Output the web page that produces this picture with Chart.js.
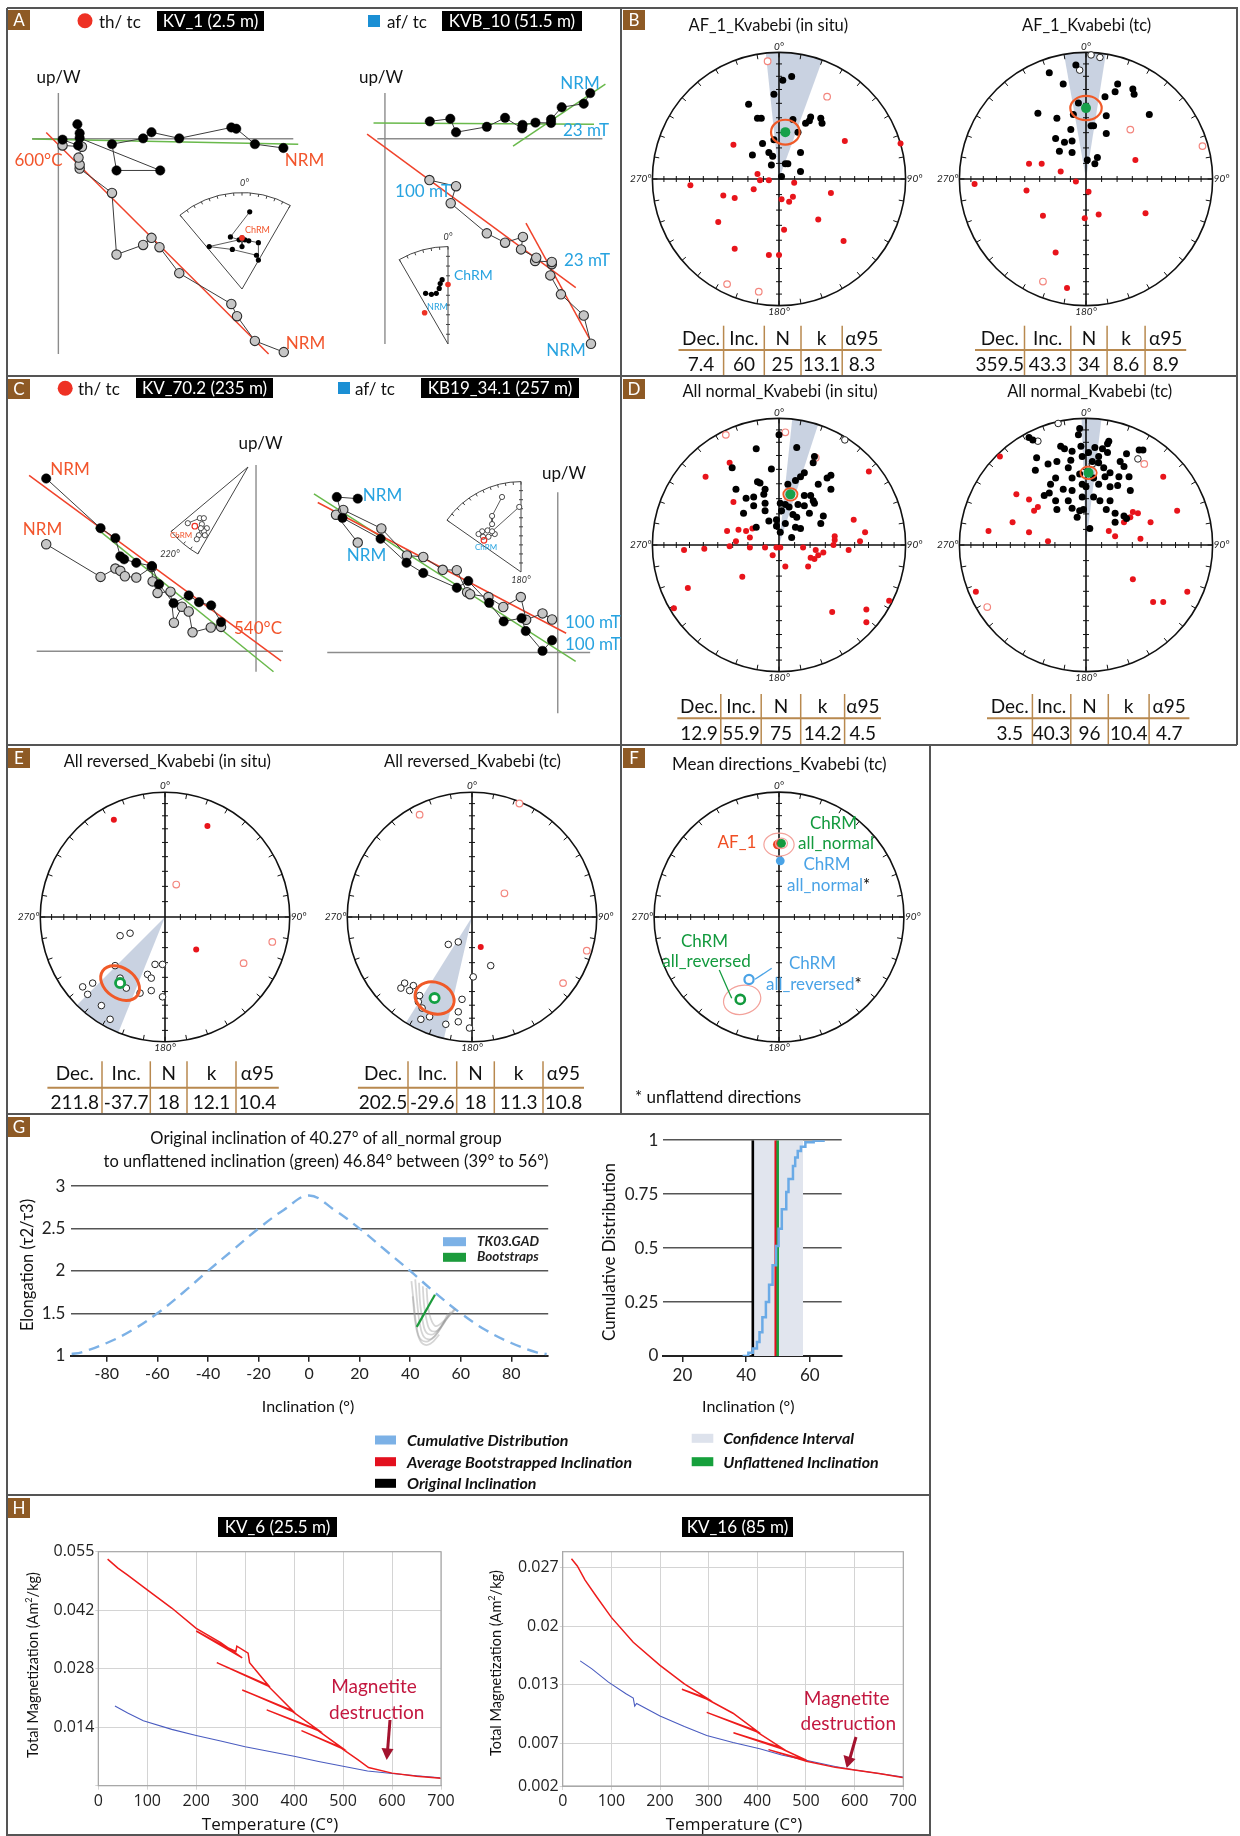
<!DOCTYPE html>
<html>
<head>
<meta charset="utf-8">
<title>Kvabebi palaeomagnetic results</title>
<script src="https://cdn.jsdelivr.net/npm/chart.js@4.4.1/dist/chart.umd.min.js"></script>
<style>
  body { margin:0; background:#fff; }
  #fig { position:relative; width:1240px; height:1836px; background:#fff; overflow:hidden; font-family: Lato, "Open Sans", sans-serif; }
  #fig canvas { position:absolute; }
  .t { position:absolute; white-space:nowrap; line-height:1; }
</style>
</head>
<body>
<div id="fig"></div>
<script>
// ================= DATA =================
// Zijderveld diagrams (arbitrary units, origin = axis crossing)
var kv1Horiz = [[592,-29],[517,-17],[468,31],[455,35],[318,1],[245,20],[223,1],[141,-17],[153,-99],[268,-99],[56,2],[56,17],[50,45],[52,-21],[11,-3]];
var kv1Vert  = [[593,-665],[517,-630],[470,-553],[455,-515],[318,-419],[266,-338],[245,-309],[223,-331],[153,-361],[141,-169],[56,-93],[56,-81],[53,-59],[62,-25],[11,-21]];
var kv1FitRed = [[-32,19],[553,-671]];
var kv1FitGreen = [[-69,-1],[631,-17]];

var kvb10Horiz = [[540,142],[523,109],[465,98],[437,60],[437,49],[396,50],[362,43],[361,32],[316,65],[268,37],[187,20],[172,62],[118,54]];
var kvb10Vert  = [[542,-639],[523,-551],[463,-485],[435,-426],[439,-391],[439,-384],[395,-381],[398,-371],[358,-345],[363,-306],[316,-324],[268,-295],[173,-201],[187,-148],[117,-129]];
var kvb10FitRed = [[-47,14],[502,-464]];
var kvb10FitRed2 = [[371,-263],[538,-623]];
var kvb10FitGreen = [[-30,49],[550,45]];
var kvb10FitGreen2 = [[337,-23],[580,170]];

var kv70Horiz = [[-552,539],[-409,384],[-370,353],[-357,296],[-347,287],[-315,276],[-274,266],[-255,209],[-217,150],[-177,174],[-150,153],[-118,143],[-92,91]];
var kv70Vert  = [[-552,334],[-409,232],[-370,258],[-357,251],[-345,234],[-315,230],[-274,263],[-272,218],[-259,182],[-225,186],[-216,89],[-195,139],[-177,124],[-167,59],[-119,74],[-92,76]];
var kv70FitRed = [[-597,549],[66,-30]];
var kv70FitGreen = [[-422,386],[46,-64]];

var kb19Horiz = [[-525,480],[-580,485],[-565,420],[-465,355],[-397,280],[-353,248],[-265,202],[-235,223],[-180,155],[-142,97],[-95,107],[-84,67],[-40,5],[-15,38]];
var kb19Vert  = [[-525,343],[-582,430],[-563,445],[-463,387],[-396,303],[-353,298],[-302,258],[-265,257],[-238,188],[-230,182],[-182,173],[-143,142],[-97,173],[-83,102],[-40,122],[-15,103]];
var kb19FitRed = [[-630,468],[22,60]];
var kb19FitGreen = [[-640,495],[47,-28]];

// small equal-area insets (fraction of inset radius, x east / y north)
var kv1InsetPath = [[0.08,0.80],[-0.12,0.54],[-0.03,0.51],[-0.34,0.44],[-0.10,0.41],[0.15,0.35],[0.17,0.30],[0.17,0.48],[0.07,0.50],[0.03,0.51],[0,0.53],[0,0.44]];
var kv1InsetChrm = [[0,0.53]];
var kvb10InsetPath = [[-0.23,0.52],[-0.17,0.51],[-0.12,0.52],[-0.09,0.57],[-0.08,0.62],[-0.06,0.66]];
var kvb10InsetChrm = [[0,0.61]];
var kvb10InsetNrm = [[-0.24,0.32]];
var kv70InsetPath = [[-0.60,-0.56],[-0.48,-0.51],[-0.44,-0.51],[-0.46,-0.57],[-0.41,-0.61],[-0.44,-0.64],[-0.43,-0.68],[-0.49,-0.68],[-0.51,-0.72],[-0.47,-0.61]];
var kv70InsetChrm = [[-0.53,-0.59]];
var kb19InsetPath = [[-0.21,0.83],[-0.32,0.62],[-0.32,0.53],[-0.37,0.46],[-0.43,0.45],[-0.47,0.42],[-0.42,0.39],[-0.36,0.39],[-0.29,0.42],[-0.32,0.45],[-0.02,0.72]];
var kb19InsetChrm = [[-0.41,0.35]];

// Stereonets: equal-area projected positions (x east, y north, unit circle)
var af1GeoBlack = [[0.03,0.78],[0.10,0.81],[-0.04,0.67],[-0.24,0.59],[-0.17,0.48],[-0.14,0.48],[0.11,0.47],[0.21,0.44],[0.25,0.49],[0.24,0.46],[0.33,0.48],[0.34,0.44],[0.15,0.37],[-0.13,0.28],[-0.21,0.19],[-0.08,0.21],[-0.05,0.18],[0.17,0.21],[-0.06,0.11],[0.05,0.12],[0.07,0.12],[0.17,0.06],[0.02,0.02],[-0.04,0.31]];
var af1GeoRed = [[-0.36,0.27],[0.52,0.30],[0.96,0.28],[-0.17,0.04],[-0.15,-0.01],[-0.08,-0.01],[0.12,-0.03],[-0.70,-0.05],[-0.44,-0.13],[-0.35,-0.15],[-0.20,-0.08],[0.02,-0.16],[0.11,-0.14],[0.08,-0.18],[0.41,-0.11],[-0.48,-0.34],[0.31,-0.32],[0.04,-0.40],[0.51,-0.49],[-0.35,-0.55],[-0.08,-0.60],[0.00,-0.60]];
var af1GeoOpenRed = [[-0.09,0.93],[0.38,0.65],[-0.41,-0.83],[-0.16,-0.89]];
var af1GeoMean = [[0.05,0.37]];

var af1TcBlack = [[-0.08,0.90],[-0.29,0.84],[-0.18,0.75],[0.25,0.75],[0.37,0.71],[0.38,0.67],[0.23,0.69],[0.15,0.65],[-0.06,0.60],[-0.38,0.52],[-0.23,0.48],[-0.10,0.51],[0.16,0.50],[0.50,0.51],[0.06,0.42],[0.04,0.42],[-0.12,0.39],[0.16,0.36],[-0.24,0.32],[-0.17,0.29],[-0.11,0.30],[-0.21,0.22],[-0.11,0.21],[0.01,0.15],[0.09,0.17],[0.07,0.12]];
var af1TcOpenBlack = [[0.04,0.98],[0.11,0.96],[-0.05,0.86]];
var af1TcRed = [[-0.45,0.12],[-0.35,0.12],[-0.20,0.06],[-0.08,-0.02],[-0.88,-0.04],[-0.47,-0.09],[0.02,-0.10],[0.39,0.15],[-0.34,-0.29],[-0.01,-0.31],[0.10,-0.28],[0.47,-0.27],[-0.24,-0.58],[-0.15,-0.86]];
var af1TcOpenRed = [[0.35,0.39],[0.92,0.26],[-0.34,-0.81]];
var af1TcMean = [[0.00,0.56]];

var normGeoBlack = [[0.00,0.87],[-0.18,0.76],[0.14,0.77],[0.28,0.70],[0.27,0.65],[-0.06,0.60],[-0.37,0.61],[0.20,0.57],[0.17,0.54],[0.13,0.51],[0.41,0.55],[0.38,0.53],[-0.17,0.50],[-0.15,0.49],[0.31,0.48],[0.41,0.44],[-0.34,0.44],[0.07,0.48],[-0.11,0.44],[-0.26,0.37],[-0.20,0.38],[-0.12,0.40],[0.20,0.39],[0.25,0.39],[0.27,0.35],[-0.11,0.33],[-0.20,0.31],[0.01,0.33],[0.05,0.32],[0.08,0.30],[0.15,0.32],[0.20,0.31],[0.28,0.33],[-0.11,0.27],[0.02,0.27],[0.24,0.25],[0.11,0.24],[-0.28,0.25],[-0.08,0.19],[-0.02,0.20],[-0.18,0.14],[0.05,0.17],[0.13,0.14],[0.17,0.13],[0.33,0.17],[0.10,0.06],[0.01,0.10],[0.14,0.22],[0.35,0.23],[-0.02,0.15]];
var normGeoOpenBlack = [[0.52,0.83]];
var normGeoOpenRed = [[-0.42,0.87],[0.05,0.89],[0.29,0.69]];
var normGeoRed = [[-0.39,0.65],[-0.58,0.54],[0.71,0.58],[-0.36,0.34],[0.59,0.20],[0.68,0.10],[-0.41,0.11],[-0.32,0.12],[-0.26,0.11],[-0.21,0.13],[-0.23,0.06],[-0.34,0.03],[-0.39,-0.01],[-0.75,-0.04],[-0.59,-0.03],[-0.23,-0.02],[-0.11,-0.02],[-0.02,-0.02],[0.01,-0.02],[-0.05,-0.08],[0.05,-0.17],[0.19,-0.02],[0.29,-0.04],[0.31,-0.08],[0.28,-0.11],[0.25,-0.10],[0.35,-0.06],[0.43,0.00],[0.44,0.04],[0.55,-0.04],[0.64,0.03],[0.23,-0.17],[-0.29,-0.25],[-0.72,-0.34],[-0.83,-0.50],[0.42,-0.53],[0.69,-0.51],[0.69,-0.61],[0.87,-0.44],[0.44,0.07]];
var normGeoMean = [[0.09,0.40]];

var normTcBlack = [[-0.05,0.92],[-0.45,0.85],[-0.42,0.83],[-0.06,0.87],[-0.20,0.78],[-0.17,0.76],[-0.04,0.78],[0.07,0.77],[0.18,0.82],[0.17,0.80],[0.13,0.76],[0.02,0.73],[-0.03,0.70],[-0.11,0.74],[-0.39,0.69],[-0.23,0.66],[-0.12,0.67],[0.10,0.70],[0.17,0.73],[0.32,0.72],[0.42,0.75],[0.45,0.75],[-0.30,0.64],[-0.14,0.61],[0.05,0.66],[0.10,0.65],[0.14,0.61],[0.27,0.66],[0.30,0.62],[-0.40,0.59],[-0.24,0.53],[-0.11,0.53],[-0.05,0.56],[0.06,0.53],[0.15,0.54],[0.19,0.57],[0.26,0.54],[0.34,0.54],[-0.28,0.48],[-0.18,0.44],[-0.11,0.43],[-0.03,0.48],[0.00,0.46],[0.10,0.48],[0.19,0.46],[0.25,0.47],[0.35,0.43],[-0.33,0.39],[-0.29,0.41],[-0.24,0.35],[-0.14,0.35],[-0.03,0.38],[0.06,0.38],[0.11,0.35],[0.19,0.35],[0.16,0.28],[-0.23,0.28],[-0.11,0.29],[-0.05,0.27],[-0.02,0.28],[-0.07,0.22],[0.23,0.25],[0.30,0.23],[0.32,0.21],[0.03,0.13],[0.23,0.18]];
var normTcOpenBlack = [[-0.22,0.96],[-0.38,0.82],[0.41,0.68],[0.05,0.64]];
var normTcOpenRed = [[0.46,0.64],[-0.78,-0.49]];
var normTcRed = [[-0.68,0.70],[-0.55,0.40],[-0.45,0.36],[-0.38,0.30],[-0.41,0.27],[-0.58,0.18],[-0.77,0.11],[-0.45,0.10],[-0.30,0.03],[0.18,0.11],[0.23,0.07],[0.30,0.18],[0.35,0.22],[0.41,0.25],[0.37,0.26],[0.51,0.18],[0.43,0.05],[0.61,0.54],[0.72,0.27],[0.37,-0.27],[-0.87,-0.37],[0.53,-0.45],[0.61,-0.45],[0.80,-0.37]];
var normTcMean = [[0.02,0.57]];

var revGeoOpenBlack = [[-0.36,-0.15],[-0.28,-0.13],[-0.40,-0.39],[-0.36,-0.49],[-0.08,-0.38],[-0.02,-0.38],[-0.14,-0.46],[-0.11,-0.49],[-0.66,-0.56],[-0.58,-0.53],[-0.62,-0.62],[-0.31,-0.57],[-0.20,-0.61],[-0.11,-0.59],[-0.02,-0.64],[-0.51,-0.71],[-0.44,-0.82]];
var revGeoRed = [[-0.41,0.78],[0.34,0.73],[0.25,-0.26]];
var revGeoOpenRed = [[0.09,0.26],[0.86,-0.20],[0.63,-0.37]];
var revGeoMean = [[-0.36,-0.53]];

var revTcOpenBlack = [[-0.19,-0.22],[-0.11,-0.20],[0.15,-0.39],[0.01,-0.48],[-0.54,-0.53],[-0.47,-0.55],[-0.57,-0.57],[-0.50,-0.59],[-0.42,-0.63],[-0.40,-0.73],[-0.08,-0.66],[-0.11,-0.76],[-0.11,-0.84],[-0.21,-0.86],[-0.34,-0.80],[-0.41,-0.82],[-0.02,-0.89],[-0.43,-0.68]];
var revTcRed = [[0.07,-0.24]];
var revTcOpenRed = [[-0.42,0.82],[0.38,0.91],[0.26,0.19],[0.92,-0.27],[0.73,-0.53]];
var revTcMean = [[-0.30,-0.65]];

// mean directions (panel F)
var meanAf1 = [[-0.01,0.58]];
var meanNormal = [[0.02,0.59]];
var meanNormalUnfl = [[0.01,0.45]];
var meanReversedUnfl = [[-0.24,-0.50]];
var meanReversed = [[-0.31,-0.66]];

// declination confidence wedges (degrees)
var wedgeAf1Geo = [-6,20], wedgeAf1Tc = [-10,9], wedgeNormGeo = [6,18], wedgeNormTc = [-2,7], wedgeRevGeo = [202,225], wedgeRevTc = [193,212];

// statistics tables
var statHead = ['Dec.','Inc.','N','k','\u03b195'];
var statAf1Geo = ['7.4','60','25','13.1','8.3'];
var statAf1Tc  = ['359.5','43.3','34','8.6','8.9'];
var statNormGeo = ['12.9','55.9','75','14.2','4.5'];
var statNormTc  = ['3.5','40.3','96','10.4','4.7'];
var statRevGeo = ['211.8','-37.7','18','12.1','10.4'];
var statRevTc  = ['202.5','-29.6','18','11.3','10.8'];

// G: elongation / inclination
var tk03Inc   = [-94,-90,-80,-70,-60,-50,-40,-30,-20,-10,0,10,20,30,40,50,60,70,80,90,94];
var tk03Elong = [1.02,1.04,1.15,1.3,1.5,1.74,2.0,2.25,2.5,2.72,2.89,2.72,2.5,2.25,2.0,1.74,1.5,1.3,1.15,1.04,1.02];
var bootCurves = [
  [[40.5,1.88],[41.5,1.6],[42.5,1.35],[44,1.2],[47,1.17],[51,1.28],[55,1.5]],
  [[42,1.9],[42.8,1.62],[43.8,1.38],[45.5,1.22],[48.5,1.2],[52,1.32],[56,1.52]],
  [[43.5,1.86],[44,1.6],[45,1.4],[46.5,1.27],[49.5,1.26],[53,1.38],[57.5,1.55]],
  [[45,1.82],[45.5,1.6],[46.5,1.42],[48,1.3],[51,1.3],[54,1.42]],
  [[41,1.7],[41.8,1.45],[43,1.25],[45,1.14],[48,1.14],[51.5,1.25]],
  [[46.5,1.8],[47,1.6],[48,1.45],[50,1.35],[53,1.4],[58,1.55]]
];
var bootMean = [[42.6,1.34],[49.8,1.72]];
var gIncTicks = [-80,-60,-40,-20,0,20,40,60,80];
var gElongTicks = [1,1.5,2,2.5,3];

var cdfInc = [38.9,40.7,42.1,43.4,44.2,45.1,46.2,47.2,48.3,49.4,50.2,51.2,52.6,53.3,54.7,55.4,56.2,57.2,58.6,61.2,64.3];
var cdfVal = [0,0.015,0.035,0.065,0.11,0.18,0.25,0.33,0.42,0.51,0.59,0.68,0.76,0.82,0.88,0.92,0.95,0.97,0.99,0.997,1];
var confInt = [42.3,57.9];
var origInc = 42.1, avgBootInc = 49.3, unflatInc = 49.9;
var cdfIncTicks = [20,40,60];
var cdfTicks = [0,0.25,0.5,0.75,1];

// H: thermomagnetic curves
var tempTicks = [0,100,200,300,400,500,600,700];
var kv6RedT = [19,40,60,100,150,200,250,294,200,250,281,283,306,309,347,242,347,397,294,397,449,344,449,497,415,497,530,552,600,650,700];
var kv6RedM = [0.0533,0.0512,0.0496,0.0462,0.0420,0.0373,0.0340,0.0305,0.0367,0.0336,0.0320,0.0332,0.0316,0.0294,0.0242,0.0294,0.0240,0.0183,0.0231,0.0181,0.0139,0.0185,0.0137,0.0098,0.0137,0.0096,0.0070,0.0052,0.0039,0.0032,0.0027];
var kv6BlueT = [34,60,92,150,200,250,300,350,400,450,500,550,600,650,698];
var kv6BlueM = [0.0194,0.0178,0.0160,0.0140,0.0126,0.0113,0.0100,0.0089,0.0078,0.0066,0.0055,0.0044,0.0038,0.0033,0.0028];
var kv6MagTicks = [0.001,0.0145,0.028,0.0415,0.055];
var kv6MagLabels = ['','0.014','0.028','0.042','0.055'];

var kv16RedT = [18,30,46,70,100,145,200,250,296,245,296,350,399,296,399,450,351,450,501,423,501,560,600,650,705];
var kv16RedM = [0.0278,0.0270,0.0254,0.0235,0.0212,0.0184,0.0158,0.0137,0.0121,0.0131,0.0120,0.0104,0.0084,0.0105,0.0083,0.0065,0.0082,0.0064,0.0051,0.0063,0.0050,0.0043,0.0040,0.0036,0.0031];
var kv16BlueT = [36,60,94,130,145,148,152,200,250,296,350,405,450,500,560,600,650,700];
var kv16BlueM = [0.0163,0.0154,0.0139,0.0126,0.0121,0.0112,0.0115,0.0101,0.0089,0.0079,0.0071,0.0064,0.0057,0.0051,0.0044,0.0040,0.0036,0.0032];
var kv16MagTicks = [0.0022,0.0070,0.0136,0.0202,0.0268];
var kv16MagLabels = ['0.002','0.007','0.013','0.02','0.027'];

// ================= HELPERS =================
Chart.defaults.font.family = 'Lato, "Open Sans", sans-serif';
var fig = document.getElementById('fig');
var SX = 2.529, SY = 3;   // zijderveld picture units per pixel
var RNET = 131;           // stereonet radius in px
var svgParts = [];

function canvasAt(l, t, w, h) {
  var c = document.createElement('canvas');
  c.width = Math.round(w); c.height = Math.round(h);
  c.style.left = l + 'px'; c.style.top = t + 'px';
  c.style.width = Math.round(w) + 'px'; c.style.height = Math.round(h) + 'px';
  fig.appendChild(c);
  return c;
}
function xy(a) { return a.map(function(p){ return {x:p[0], y:p[1]}; }); }
function pairs(xs, ys) { return xs.map(function(v,i){ return {x:v, y:ys[i]}; }); }
function txt(s, x, y, size, color, extra, anchor) {
  var d = document.createElement('div');
  d.className = 't';
  var tr = anchor === 'l' ? 'translate(0,-50%)' : anchor === 'r' ? 'translate(-100%,-50%)' : 'translate(-50%,-50%)';
  d.style.cssText = 'left:'+x+'px;top:'+y+'px;font-size:'+size+'px;color:'+(color||'#111')+';transform:'+tr+';'+(extra||'');
  d.innerHTML = s;
  fig.appendChild(d);
  return d;
}
function boxLabel(s, l, t, w, h, size) {
  var d = document.createElement('div');
  d.className = 't';
  d.style.cssText = 'left:'+l+'px;top:'+t+'px;width:'+w+'px;height:'+h+'px;line-height:'+h+'px;background:#000;color:#fff;text-align:center;font-size:'+(size||17)+'px;';
  d.innerHTML = s;
  fig.appendChild(d);
}
function tag(s, l, t) {
  var d = document.createElement('div');
  d.className = 't';
  d.style.cssText = 'left:'+l+'px;top:'+t+'px;width:22px;height:20px;line-height:20px;background:#8e5a25;color:#fff;text-align:center;font-size:17px;';
  d.innerHTML = s;
  fig.appendChild(d);
}
function baseOpts(x0, x1, y0, y1) {
  return {
    animation:false, responsive:false, devicePixelRatio:1, events:[],
    layout:{padding:0},
    plugins:{legend:{display:false}, tooltip:{enabled:false}},
    scales:{x:{type:'linear', display:false, min:x0, max:x1}, y:{type:'linear', display:false, min:y0, max:y1}}
  };
}

// Zijderveld diagram
function zij(box, org, axes, horiz, vert, fits) {
  var c = canvasAt(box[0], box[1], box[2], box[3]);
  var x0 = (box[0]-org[0])*SX, x1 = (box[0]+box[2]-org[0])*SX;
  var y1 = (org[1]-box[1])*SY, y0 = (org[1]-box[1]-box[3])*SY;
  var axPlug = {id:'zax', beforeDatasetsDraw:function(ch){
    var sx = ch.scales.x, sy = ch.scales.y, g = ch.ctx;
    g.save(); g.strokeStyle = '#8c8c8c'; g.lineWidth = 1.4; g.beginPath();
    g.moveTo(sx.getPixelForValue(axes[0]), sy.getPixelForValue(0)); g.lineTo(sx.getPixelForValue(axes[1]), sy.getPixelForValue(0));
    g.moveTo(sx.getPixelForValue(0), sy.getPixelForValue(axes[2])); g.lineTo(sx.getPixelForValue(0), sy.getPixelForValue(axes[3]));
    g.stroke(); g.restore();
  }};
  var sets = [
    {data:xy(horiz), showLine:true, borderColor:'#3c3c3c', borderWidth:1, pointRadius:4.7, pointBackgroundColor:'#000', pointBorderColor:'#000', pointBorderWidth:0.5},
    {data:xy(vert), showLine:true, borderColor:'#3c3c3c', borderWidth:1, pointRadius:4.7, pointBackgroundColor:'#c6c6c6', pointBorderColor:'#2e2e2e', pointBorderWidth:1.1}
  ];
  fits.forEach(function(f){ sets.push({data:xy(f[0]), showLine:true, borderColor:f[1], borderWidth:1.5, pointRadius:0}); });
  new Chart(c, {type:'scatter', data:{datasets:sets}, options:baseOpts(x0,x1,y0,y1), plugins:[axPlug]});
}

// small fan-shaped equal-area inset
function inset(apex, R, a1, a2, path, chrm, nrm, open, edgeTicks) {
  var s = R + 12, k = s / R;
  var c = canvasAt(apex[0]-s, apex[1]-s, 2*s, 2*s);
  var plug = {id:'fan', beforeDatasetsDraw:function(ch){
    var sx = ch.scales.x, sy = ch.scales.y, g = ch.ctx;
    var X = sx.getPixelForValue(0), Y = sy.getPixelForValue(0), r = sx.getPixelForValue(1) - X;
    var t1 = (a1-90)*Math.PI/180, t2 = (a2-90)*Math.PI/180;
    g.save(); g.strokeStyle = '#444'; g.lineWidth = 1;
    g.beginPath(); g.moveTo(X,Y); g.lineTo(X+r*Math.cos(t1), Y+r*Math.sin(t1)); g.arc(X,Y,r,t1,t2); g.closePath(); g.stroke();
    for (var d = Math.ceil(a1/5)*5; d <= a2; d += 5) {
      var t = (d-90)*Math.PI/180;
      g.beginPath(); g.moveTo(X+r*Math.cos(t), Y+r*Math.sin(t)); g.lineTo(X+(r-3)*Math.cos(t), Y+(r-3)*Math.sin(t)); g.stroke();
    }
    if (edgeTicks) for (var q = 1; q < 10; q++) {
      var px = X + q/10*r*Math.cos(t2), py = Y + q/10*r*Math.sin(t2);
      g.beginPath(); g.moveTo(px-2,py); g.lineTo(px+2,py); g.stroke();
    }
    g.restore();
  }};
  var sets = [];
  if (chrm) sets.push({data:xy(chrm), pointRadius:2.8, pointBackgroundColor:open?'rgba(0,0,0,0)':'#ee3124', pointBorderColor:'#ee3124', pointBorderWidth:open?1.2:0});
  if (nrm) sets.push({data:xy(nrm), pointRadius:2.8, pointBackgroundColor:'#ee3124', pointBorderWidth:0});
  sets.push({data:xy(path), showLine:true, borderColor:'#333', borderWidth:0.8, pointRadius:2.6, pointBackgroundColor:open?'#fff':'#000', pointBorderColor:'#222', pointBorderWidth:open?0.8:0});
  new Chart(c, {type:'scatter', data:{datasets:sets}, options:baseOpts(-k,k,-k,k), plugins:[plug]});
}

var ST = {
  black:     {pointRadius:3.5, pointBackgroundColor:'#000', pointBorderColor:'#000', pointBorderWidth:0},
  red:       {pointRadius:3, pointBackgroundColor:'#e8141b', pointBorderColor:'#e8141b', pointBorderWidth:0},
  openBlack: {pointRadius:3.3, pointBackgroundColor:'#fff', pointBorderColor:'#222', pointBorderWidth:1},
  openRed:   {pointRadius:3.3, pointBackgroundColor:'#fff', pointBorderColor:'#f3867e', pointBorderWidth:1.2},
  mean:      {pointRadius:5, pointBackgroundColor:'#17a04a', pointBorderColor:'#17a04a', pointBorderWidth:0},
  meanOpen:  {pointRadius:4.6, pointBackgroundColor:'#fff', pointBorderColor:'#13a043', pointBorderWidth:2.8},
  fRed:      {pointRadius:4.8, pointBackgroundColor:'#ee4026', pointBorderColor:'#ee4026', pointBorderWidth:0},
  fGreen:    {pointRadius:4.4, pointBackgroundColor:'#139a3e', pointBorderColor:'#139a3e', pointBorderWidth:0},
  fBlue:     {pointRadius:4.4, pointBackgroundColor:'#4aa3e6', pointBorderColor:'#4aa3e6', pointBorderWidth:0},
  fBlueOpen: {pointRadius:4.6, pointBackgroundColor:'#fff', pointBorderColor:'#4aa3e6', pointBorderWidth:2.2},
  fGreenOpen:{pointRadius:4.6, pointBackgroundColor:'#fff', pointBorderColor:'#139a3e', pointBorderWidth:2.6}
};
function layer(pts, style) { var o = {data:xy(pts), showLine:false}; var s = ST[style]; for (var k in s) o[k] = s[k]; return o; }

// equal-area stereonet
function stereo(cx, cy, layers, wedge, ells) {
  var s = RNET + 24, k = s / RNET;
  var c = canvasAt(cx - s, cy - s, 2*s, 2*s);
  var plug = {
    id:'net',
    beforeDatasetsDraw:function(ch){
      var sx = ch.scales.x, sy = ch.scales.y, g = ch.ctx;
      var X = sx.getPixelForValue(0), Y = sy.getPixelForValue(0), r = sx.getPixelForValue(1) - X;
      g.save();
      if (wedge) {
        g.fillStyle = 'rgba(186,197,216,0.78)';
        g.beginPath(); g.moveTo(X,Y); g.arc(X,Y,r,(wedge[0]-90)*Math.PI/180,(wedge[1]-90)*Math.PI/180); g.closePath(); g.fill();
      }
      g.strokeStyle = '#111'; g.lineWidth = 1.6;
      g.beginPath(); g.arc(X,Y,r,0,2*Math.PI); g.stroke();
      g.beginPath(); g.moveTo(X-r,Y); g.lineTo(X+r,Y); g.moveTo(X,Y-r); g.lineTo(X,Y+r); g.stroke();
      g.lineWidth = 1;
      for (var d = 0; d < 360; d += 10) {
        var t = d*Math.PI/180;
        g.beginPath(); g.moveTo(X+r*Math.cos(t), Y+r*Math.sin(t)); g.lineTo(X+(r-5)*Math.cos(t), Y+(r-5)*Math.sin(t)); g.stroke();
      }
      for (var inc = 10; inc < 90; inc += 10) {
        var q = r*Math.SQRT2*Math.sin((90-inc)*Math.PI/360);
        g.beginPath();
        g.moveTo(X+q,Y-3); g.lineTo(X+q,Y+3); g.moveTo(X-q,Y-3); g.lineTo(X-q,Y+3);
        g.moveTo(X-3,Y+q); g.lineTo(X+3,Y+q); g.moveTo(X-3,Y-q); g.lineTo(X+3,Y-q);
        g.stroke();
      }
      g.fillStyle = '#222'; g.font = 'italic 10px Lato';
      g.textAlign = 'center'; g.textBaseline = 'bottom'; g.fillText('0\u00b0', X, Y-r-1);
      g.textBaseline = 'top'; g.fillText('180\u00b0', X, Y+r+1);
      g.textBaseline = 'middle'; g.textAlign = 'right'; g.fillText('270\u00b0', X-r-1, Y);
      g.textAlign = 'left'; g.fillText('90\u00b0', X+r+1, Y);
      g.restore();
    },
    afterDatasetsDraw:function(ch){
      var sx = ch.scales.x, sy = ch.scales.y, g = ch.ctx, r = sx.getPixelForValue(1) - sx.getPixelForValue(0);
      g.save();
      (ells||[]).forEach(function(e){
        g.strokeStyle = e.col; g.lineWidth = e.w;
        g.beginPath(); g.ellipse(sx.getPixelForValue(e.c[0]), sy.getPixelForValue(e.c[1]), e.r[0]*r, e.r[1]*r, -(e.rot||0)*Math.PI/180, 0, 2*Math.PI); g.stroke();
      });
      g.restore();
    }
  };
  new Chart(c, {type:'scatter', data:{datasets:layers}, options:baseOpts(-k,k,-k,k), plugins:[plug]});
}

function table(l, seps, r, yHead, yVal, yLine, yBot, vals) {
  var b = [l].concat(seps, [r]);
  svgParts.push('<line x1="'+l+'" y1="'+yLine+'" x2="'+r+'" y2="'+yLine+'" stroke="#b8894f" stroke-width="2"/>');
  seps.forEach(function(s){ svgParts.push('<line x1="'+s+'" y1="'+(yHead-11)+'" x2="'+s+'" y2="'+yBot+'" stroke="#b8894f" stroke-width="1.5"/>'); });
  statHead.forEach(function(h, i){
    var cx = (b[i] + b[i+1]) / 2;
    txt(h, cx, yHead, 19);
    txt(vals[i], cx, yVal, 19);
  });
}

var ORANGE = '#f05a28', PINK = '#f3a29b';

// ================= PANEL A =================
zij([12,60,300,312], [54.2,135.7], [-69,618,142,-671], kv1Horiz, kv1Vert, [[kv1FitRed,'#f0432b'],[kv1FitGreen,'#69b94b']]);
zij([318,60,300,312], [381.6,135.7], [-20,572,142,-640], kvb10Horiz, kvb10Vert, [[kvb10FitRed,'#f0432b'],[kvb10FitRed2,'#f0432b'],[kvb10FitGreen,'#69b94b'],[kvb10FitGreen2,'#69b94b']]);
inset([242.4,288.7], 100, -40, 30, kv1InsetPath, kv1InsetChrm, null, false, false);
inset([448,344], 101, -30, 0, kvb10InsetPath, kvb10InsetChrm, kvb10InsetNrm, false, true);

// ================= PANEL B =================
stereo(779.3, 179, [layer(af1GeoMean,'mean'), layer(af1GeoBlack,'black'), layer(af1GeoRed,'red'), layer(af1GeoOpenRed,'openRed')],
  wedgeAf1Geo, [{c:af1GeoMean[0], r:[0.113,0.098], col:ORANGE, w:2.2}]);
stereo(1085.8, 179, [layer(af1TcMean,'mean'), layer(af1TcBlack,'black'), layer(af1TcOpenBlack,'openBlack'), layer(af1TcRed,'red'), layer(af1TcOpenRed,'openRed')],
  wedgeAf1Tc, [{c:af1TcMean[0], r:[0.124,0.096], col:ORANGE, w:2.2}]);

// ================= PANEL C =================
zij([12,440,300,300], [259.8,653.7], [-577,71,581,-64], kv70Horiz, kv70Vert, [[kv70FitRed,'#f0432b'],[kv70FitGreen,'#69b94b']]);
zij([300,440,318,300], [561.5,655], [-605,85,500,-190], kb19Horiz, kb19Vert, [[kb19FitRed,'#f0432b'],[kb19FitGreen,'#69b94b']]);
inset([248.3,466.7], 105, 210, 230, kv70InsetPath, kv70InsetChrm, null, true, false);
inset([521.2,571.7], 95, -55, 0, kb19InsetPath, kb19InsetChrm, null, true, true);

// ================= PANEL D =================
stereo(779.4, 545, [layer(normGeoMean,'mean'), layer(normGeoBlack,'black'), layer(normGeoOpenBlack,'openBlack'), layer(normGeoRed,'red'), layer(normGeoOpenRed,'openRed')],
  wedgeNormGeo, [{c:normGeoMean[0], r:[0.056,0.05], col:ORANGE, w:1.8}]);
stereo(1085.8, 545, [layer(normTcMean,'mean'), layer(normTcBlack,'black'), layer(normTcOpenBlack,'openBlack'), layer(normTcRed,'red'), layer(normTcOpenRed,'openRed')],
  wedgeNormTc, [{c:normTcMean[0], r:[0.065,0.05], col:ORANGE, w:1.8}]);

// ================= PANEL E =================
stereo(165.3, 916.7, [layer(revGeoMean,'meanOpen'), layer(revGeoOpenBlack,'openBlack'), layer(revGeoRed,'red'), layer(revGeoOpenRed,'openRed')],
  wedgeRevGeo, [{c:revGeoMean[0], r:[0.17,0.12], rot:-35, col:ORANGE, w:3}]);
stereo(471.7, 916.7, [layer(revTcMean,'meanOpen'), layer(revTcOpenBlack,'openBlack'), layer(revTcRed,'red'), layer(revTcOpenRed,'openRed')],
  wedgeRevTc, [{c:revTcMean[0], r:[0.16,0.125], rot:-20, col:ORANGE, w:3}]);

// ================= PANEL F =================
stereo(779.3, 916.7, [layer(meanNormal,'fGreen'), layer(meanAf1,'fRed'), layer(meanNormalUnfl,'fBlue'), layer(meanReversedUnfl,'fBlueOpen'), layer(meanReversed,'fGreenOpen')],
  null, [{c:[0,0.58], r:[0.121,0.092], col:PINK, w:1.2}, {c:[0.02,0.59], r:[0.048,0.042], col:PINK, w:1.2}, {c:[-0.295,-0.663], r:[0.151,0.115], rot:15, col:PINK, w:1.2}]);

// ================= PANEL G =================
var gLeftSets = [{data:xy(bootMean), showLine:true, borderColor:'#1c9b3c', borderWidth:2.2, pointRadius:0}];
bootCurves.forEach(function(cv){ gLeftSets.push({data:xy(cv), showLine:true, borderColor:'rgba(150,150,150,0.4)', borderWidth:1.8, pointRadius:0, tension:0.4}); });
gLeftSets.push({data:pairs(tk03Inc, tk03Elong), showLine:true, borderColor:'#7cb1e6', borderWidth:2.4, borderDash:[11,7], pointRadius:0, tension:0.4});

function plainLabel(v) { return String(v); }
function axisOpts(min, max, ticks, fitKey, fitVal, extra) {
  var o = {type:'linear', min:min, max:max,
    afterBuildTicks:function(s){ s.ticks = ticks.map(function(v){ return {value:v}; }); }};
  o.afterFit = function(s){ s[fitKey] = fitVal; };
  for (var k in extra) o[k] = extra[k];
  return o;
}
function chartOpts(pad, xs, ys) {
  return {animation:false, responsive:false, devicePixelRatio:1, events:[],
    layout:{padding:pad},
    plugins:{legend:{display:false}, tooltip:{enabled:false}},
    scales:{x:xs, y:ys}};
}

new Chart(canvasAt(10, 1170, 550, 220), {type:'scatter', data:{datasets:gLeftSets},
  options:chartOpts({top:11.7, right:11.8, left:0, bottom:0},
    axisOpts(-94, 94.6, gIncTicks, 'height', 34.3, {
      grid:{drawOnChartArea:false, tickLength:6, color:'#222', lineWidth:1.5},
      border:{color:'#222', width:2},
      ticks:{padding:3, color:'#222', font:{size:16}, callback:plainLabel}}),
    axisOpts(1, 3, gElongTicks, 'width', 61.4, {
      grid:{color:'#555', lineWidth:1.6, drawTicks:false},
      border:{display:false},
      ticks:{padding:6, color:'#222', font:{size:17}, callback:plainLabel}}))
});

new Chart(canvasAt(600, 1125, 255, 270), {type:'scatter', data:{datasets:[
    {data:pairs(cdfInc, cdfVal), showLine:true, stepped:true, borderColor:'#6aaae6', borderWidth:2.5, pointRadius:0},
    {data:[{x:unflatInc,y:0},{x:unflatInc,y:1}], showLine:true, borderColor:'#16a03c', borderWidth:2.6, pointRadius:0},
    {data:[{x:avgBootInc,y:0},{x:avgBootInc,y:1}], showLine:true, borderColor:'#e3101e', borderWidth:2.6, pointRadius:0},
    {data:[{x:origInc,y:0},{x:origInc,y:1}], showLine:true, borderColor:'#000', borderWidth:2.6, pointRadius:0},
    {data:[{x:confInt[0],y:1},{x:confInt[1],y:1}], showLine:true, fill:'origin', backgroundColor:'#e1e5ee', borderWidth:0, pointRadius:0}
  ]},
  options:chartOpts({top:11.7, right:13.3, left:0, bottom:0},
    axisOpts(14, 70, cdfIncTicks, 'height', 39, {
      grid:{drawOnChartArea:false, tickLength:6, color:'#222', lineWidth:1.5},
      border:{color:'#222', width:2},
      ticks:{padding:3, color:'#222', font:{size:17}, callback:plainLabel}}),
    axisOpts(0, 1, cdfTicks, 'width', 63.3, {
      grid:{color:'#555', lineWidth:1.6, drawTicks:false},
      border:{display:false},
      ticks:{padding:5, color:'#222', font:{size:17}, callback:plainLabel}}))
});

// ================= PANEL H =================
var frame = {id:'frame', afterDraw:function(ch){ var a = ch.chartArea, g = ch.ctx; g.save(); g.strokeStyle = '#a8a8a8'; g.lineWidth = 1.2; g.strokeRect(a.left, a.top, a.right-a.left, a.bottom-a.top); g.restore(); }};
function thermo(left, yW, padR, xH, redT, redM, blueT, blueM, mmin, mmax, mticks, mlabels) {
  new Chart(canvasAt(left, 1540, 420, 275), {type:'scatter', data:{datasets:[
      {data:pairs(redT, redM), showLine:true, borderColor:'#ee1c1c', borderWidth:1.5, pointRadius:0},
      {data:pairs(blueT, blueM), showLine:true, borderColor:'#4a5cc0', borderWidth:1.1, pointRadius:0}
    ]},
    options:chartOpts({top:11.7, right:padR, left:0, bottom:0},
      axisOpts(0, 700, tempTicks, 'height', xH, {
        grid:{color:'#d4d4d4', tickLength:4, lineWidth:1},
        border:{color:'#a8a8a8'},
        ticks:{padding:2, color:'#222', font:{size:16, family:'"Open Sans", Lato, sans-serif'}}}),
      axisOpts(mmin, mmax, mticks, 'width', yW, {
        grid:{color:'#d4d4d4', tickLength:3, lineWidth:1},
        border:{color:'#a8a8a8'},
        ticks:{padding:1, color:'#222', font:{size:16, family:'"Open Sans", Lato, sans-serif'}, callback:function(v, i){ return mlabels[i]; }}})),
    plugins:[frame]
  });
}
thermo(40, 58.3, 19, 29.3, kv6RedT, kv6RedM, kv6BlueT, kv6BlueM, 0.001, 0.055, kv6MagTicks, kv6MagLabels);
thermo(500, 62.7, 16.7, 29, kv16RedT, kv16RedM, kv16BlueT, kv16BlueM, 0.0022, 0.0286, kv16MagTicks, kv16MagLabels);

// ================= TABLES =================
table(678.5, [723.6,764.3,801,842.2], 881.8, 336.7, 362.7, 350, 376, statAf1Geo);
table(975, [1024.5,1070.8,1107.1,1145.1], 1186.2, 336.7, 362.7, 350, 376, statAf1Tc);
table(677.3, [720.8,761.2,800.7,844.6], 881, 705, 732.3, 718.3, 745, statNormGeo);
table(987, [1032.4,1070.8,1108.3,1149.1], 1189.4, 705, 732.3, 718.3, 745, statNormTc);
table(47.4, [102,150.3,187,236], 278.8, 1072.3, 1100.7, 1087.7, 1114, statRevGeo);
table(357.9, [408,456.7,494.3,543], 584, 1072.3, 1100.7, 1087.7, 1114, statRevTc);

// ================= FRAME, MARKERS, ANNOTATION LINES =================
svgParts.push('<path d="M7 8 H1237 V745 M7 8 V1835 H930 V745 M621 8 V1114 M7 376 H1237 M7 745 H1237 M7 1114 H930 M7 1495 H930" stroke="#555" stroke-width="2" fill="none"/>');
svgParts.push('<circle cx="85" cy="20.7" r="7.5" fill="#ee3124"/><rect x="368" y="15" width="12" height="12" fill="#1b8fd4"/>');
svgParts.push('<circle cx="65.2" cy="388.3" r="7.5" fill="#ee3124"/><rect x="338" y="382" width="12" height="12" fill="#1b8fd4"/>');
svgParts.push('<line x1="719.3" y1="970" x2="731.7" y2="998.3" stroke="#139a3e" stroke-width="1.3"/><line x1="755" y1="979.3" x2="771.7" y2="968.3" stroke="#4aa3e6" stroke-width="1.3"/>');
svgParts.push('<rect x="443" y="1237.2" width="23" height="9" fill="#7cb1e6"/><rect x="443" y="1252.8" width="23" height="9" fill="#1c9b3c"/>');
svgParts.push('<rect x="375" y="1435.5" width="21" height="9" fill="#7cb1e6"/><rect x="375" y="1457.2" width="21" height="9" fill="#e3101e"/><rect x="375" y="1478.8" width="21" height="9" fill="#000"/>');
svgParts.push('<rect x="691.7" y="1433.8" width="21.6" height="9" fill="#dde2ec"/><rect x="691.7" y="1457.2" width="21.6" height="9" fill="#16a03c"/>');
svgParts.push('<line x1="390" y1="1720" x2="387.6" y2="1750" stroke="#a3132e" stroke-width="3"/><polygon points="381.5,1748 393.5,1749 386.7,1760" fill="#a3132e"/>');
svgParts.push('<line x1="856" y1="1737" x2="850" y2="1758" stroke="#a3132e" stroke-width="3"/><polygon points="843.5,1755 855.5,1759 846.7,1768" fill="#a3132e"/>');
var sv = document.createElement('div');
sv.innerHTML = '<svg xmlns="http://www.w3.org/2000/svg" width="1240" height="1836" style="position:absolute;left:0;top:0">' + svgParts.join('') + '</svg>';
fig.appendChild(sv.firstChild);

// ================= TEXT =================
var RED = '#f2552c', BLUE = '#27a3e0';
['A','B','C','D','E','F','G','H'].forEach(function(s, i){
  var pos = [[8,10],[623,10],[8,379],[623,379],[8,748],[623,748],[8,1117],[8,1498]][i];
  tag(s, pos[0], pos[1]);
});
// A
txt('th/ tc', 99, 21, 17, '#111', '', 'l'); boxLabel('KV_1 (2.5 m)', 157, 11, 107, 20);
txt('af/ tc', 387, 21, 17, '#111', '', 'l'); boxLabel('KVB_10 (51.5 m)', 442, 11, 140, 20);
txt('up/W', 58.5, 76, 17); txt('600\u00b0C', 38.5, 158.7, 17, RED); txt('NRM', 304.5, 158.7, 17, RED); txt('NRM', 305.5, 342.3, 17, RED);
txt('up/W', 381, 76, 17); txt('NRM', 580, 81.7, 17, BLUE); txt('23 mT', 586, 128.7, 17, BLUE); txt('100 mT', 423, 190, 17, BLUE);
txt('23 mT', 587, 258.7, 17, BLUE); txt('NRM', 566, 348.7, 17, BLUE);
txt('0\u00b0', 244.4, 181.7, 9, '#333', 'font-style:italic;'); txt('ChRM', 257.5, 229, 9, RED);
txt('0\u00b0', 448, 236, 9, '#333', 'font-style:italic;'); txt('ChRM', 454, 275.3, 14, BLUE, '', 'l'); txt('NRM', 437.5, 306, 9, BLUE);
// B
txt('AF_1_Kvabebi (in situ)', 768.3, 25, 16.5); txt('AF_1_Kvabebi (tc)', 1086.6, 25, 16.5);
// C
txt('th/ tc', 78, 388.3, 17, '#111', '', 'l'); boxLabel('KV_70.2 (235 m)', 136, 378, 137, 20);
txt('af/ tc', 355, 388.3, 17, '#111', '', 'l'); boxLabel('KB19_34.1 (257 m)', 421, 378, 158, 20);
txt('up/W', 260.5, 441.7, 17); txt('NRM', 70, 467.7, 17, RED); txt('NRM', 42.5, 527.7, 17, RED); txt('540\u00b0C', 258, 627.3, 17, RED);
txt('up/W', 564, 471.7, 17); txt('NRM', 382.5, 494, 17, BLUE); txt('NRM', 366.5, 554.3, 17, BLUE);
txt('100 mT', 565, 621, 17, BLUE, '', 'l'); txt('100 mT', 565, 642.7, 17, BLUE, '', 'l');
txt('220\u00b0', 170, 552.7, 9, '#333', 'font-style:italic;'); txt('ChRM', 181, 535, 8, RED);
txt('180\u00b0', 521, 579, 9, '#333', 'font-style:italic;'); txt('ChRM', 486, 546.7, 8, BLUE);
// D
txt('All normal_Kvabebi (in situ)', 780, 391, 16.5); txt('All normal_Kvabebi (tc)', 1089.7, 391, 16.5);
// E
txt('All reversed_Kvabebi (in situ)', 167.3, 760.7, 16.5); txt('All reversed_Kvabebi (tc)', 472.5, 760.7, 16.5);
// F
txt('Mean directions_Kvabebi (tc)', 779.3, 762.7, 17);
txt('AF_1', 737, 841, 17, '#f04e23');
txt('ChRM', 833.5, 822, 17, '#139a3e'); txt('all_normal', 836, 842, 17, '#139a3e');
txt('ChRM', 827, 863, 17, '#4aa3e6'); txt('all_normal<span style="color:#000">*</span>', 787, 884, 17, '#4aa3e6', '', 'l');
txt('ChRM', 704.5, 940, 17, '#139a3e'); txt('all_reversed', 706.5, 960, 17, '#139a3e');
txt('ChRM', 812.5, 962, 17, '#4aa3e6'); txt('all_reversed<span style="color:#000">*</span>', 766, 983, 17, '#4aa3e6', '', 'l');
txt('* unflattend directions', 635, 1096, 17, '#111', '', 'l');
// G
txt('Original inclination of 40.27\u00b0 of all_normal group', 326, 1138.3, 16.5);
txt('to unflattened inclination (green) 46.84\u00b0 between (39\u00b0 to 56\u00b0)', 326, 1160.7, 16.5);
txt('Elongation (\u03c42/\u03c43)', 26.8, 1265, 16.5, '#111', 'transform:translate(-50%,-50%) rotate(-90deg);');
txt('Inclination (\u00b0)', 308, 1406, 16);
txt('TK03.GAD', 477, 1241.7, 13.5, '#222', 'font-weight:bold;font-style:italic;', 'l');
txt('Bootstraps', 477, 1257.3, 13.5, '#222', 'font-weight:bold;font-style:italic;', 'l');
txt('Cumulative Distribution', 608.3, 1252.3, 17, '#111', 'transform:translate(-50%,-50%) rotate(-90deg);');
txt('Inclination (\u00b0)', 748.3, 1406, 16);
txt('Cumulative Distribution', 407, 1440, 16, '#111', 'font-weight:bold;font-style:italic;', 'l');
txt('Average Bootstrapped Inclination', 407, 1461.7, 16, '#111', 'font-weight:bold;font-style:italic;', 'l');
txt('Original Inclination', 407, 1483.3, 16, '#111', 'font-weight:bold;font-style:italic;', 'l');
txt('Confidence Interval', 723.3, 1438.3, 16, '#111', 'font-weight:bold;font-style:italic;', 'l');
txt('Unflattened Inclination', 723.3, 1461.7, 16, '#111', 'font-weight:bold;font-style:italic;', 'l');
// H
boxLabel('KV_6 (25.5 m)', 218, 1516.7, 119, 20.6);
boxLabel('KV_16 (85 m)', 681.7, 1516.7, 111.6, 20.6);
txt('Total Magnetization (Am<sup style="font-size:9px">2</sup>/kg)', 31.7, 1665, 14.5, '#111', 'transform:translate(-50%,-50%) rotate(-90deg);');
txt('Total Magnetization (Am<sup style="font-size:9px">2</sup>/kg)', 495, 1663, 14.5, '#111', 'transform:translate(-50%,-50%) rotate(-90deg);');
txt('Temperature (C\u00b0)', 270, 1823.3, 17, '#111', 'font-family:\'Open Sans\',Lato,sans-serif;');
txt('Temperature (C\u00b0)', 734, 1823.3, 17, '#111', 'font-family:\'Open Sans\',Lato,sans-serif;');
txt('Magnetite', 374, 1685, 19, '#c3173f'); txt('destruction', 376.7, 1710.7, 19, '#c3173f');
txt('Magnetite', 846.7, 1696.7, 19, '#c3173f'); txt('destruction', 848.3, 1722.3, 19, '#c3173f');
</script>
</body>
</html>
